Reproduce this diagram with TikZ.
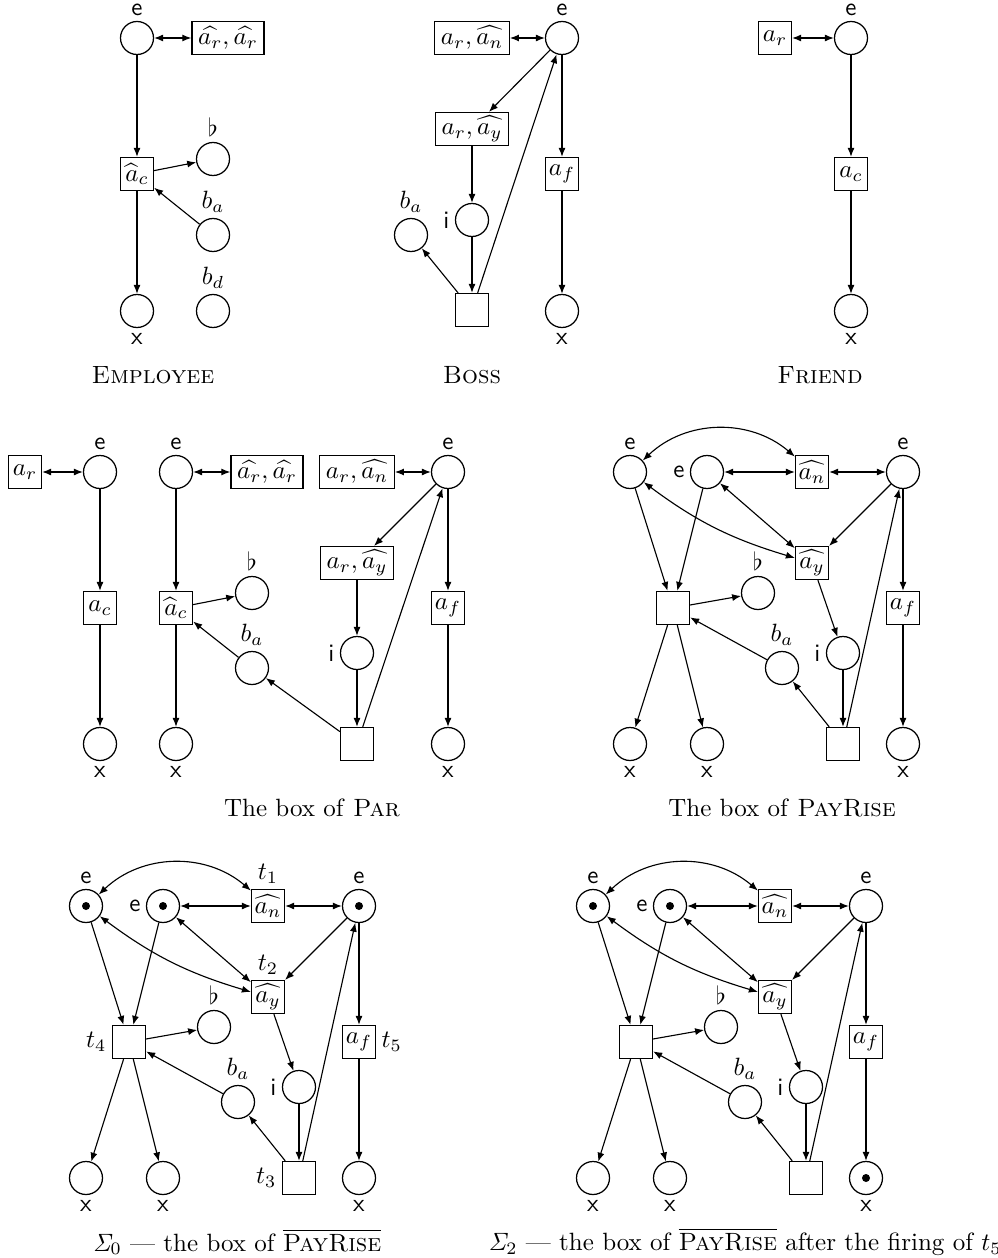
\documentclass[tikz,border=0pt]{standalone}
\usetikzlibrary{arrows.meta}
\tikzset{
  place/.style={circle, draw, line width=0.5pt, minimum size=13.2pt, inner sep=0pt},
  trans/.style={rectangle, draw, line width=0.5pt, minimum size=13.2pt, inner sep=1pt},
  wbox/.style={trans, inner xsep=2.5pt},
  arc/.style={-{Latex[length=3.6pt,width=2.8pt]}, line width=0.45pt},
  barc/.style={{Latex[length=3.6pt,width=2.8pt]}-{Latex[length=3.6pt,width=2.8pt]}, line width=0.45pt},
  every label/.style={inner sep=2pt},
  tok/.style={fill=black},
  captext/.style={inner sep=0pt}
}
\newcommand{\PRnet}[1]{%
  \node[place, label={above:\textsf{e}}] (#1e1) at (630,472) {};
  \node[place, label={left:\textsf{e}}] (#1e2) at (707,472) {};
  \node[trans] (#1an) at (812,472) {$\widehat{a_n}$};
  \node[place, label={above:\textsf{e}}] (#1e3) at (903,472) {};
  \node[trans] (#1ay) at (812,563) {$\widehat{a_y}$};
  \node[trans] (#1t4) at (673,608) {};
  \node[place, label={above:$\flat$}] (#1fl) at (758,593) {};
  \node[trans] (#1af) at (903,608) {$a_f$};
  \node[place, label={above:$b_a$}] (#1ba) at (782,668) {};
  \node[place, label={left:\textsf{i}}] (#1i) at (843,653) {};
  \node[trans] (#1t3) at (843,744) {};
  \node[place, label={below:\textsf{x}}] (#1x1) at (630,744) {};
  \node[place, label={below:\textsf{x}}] (#1x2) at (707,744) {};
  \node[place, label={below:\textsf{x}}] (#1x3) at (903,744) {};
  \draw[barc] (#1e1) to[bend left=42] (#1an);
  \draw[barc] (#1e2) -- (#1an);
  \draw[barc] (#1an) -- (#1e3);
  \draw[barc] (#1e2) -- (#1ay);
  \draw[barc] (#1e1) to[bend right=10] (#1ay);
  \draw[arc] (#1e3) -- (#1ay);
  \draw[arc] (#1e1) -- (#1t4);
  \draw[arc] (#1e2) -- (#1t4);
  \draw[arc] (#1t4) -- (#1fl);
  \draw[arc] (#1ba) -- (#1t4);
  \draw[arc] (#1t4) -- (#1x1);
  \draw[arc] (#1t4) -- (#1x2);
  \draw[arc] (#1ay) -- (#1i);
  \draw[arc] (#1i) -- (#1t3);
  \draw[arc] (#1t3) -- (#1ba);
  \draw[arc] (#1t3) -- (#1e3);
  \draw[arc] (#1e3) -- (#1af);
  \draw[arc] (#1af) -- (#1x3);
}
\begin{document}
\begin{tikzpicture}[x=0.4pt,y=-0.4pt]
\useasboundingbox (0,0) rectangle (998,1258);
% ---------- Employee
\node[place, label={above:\textsf{e}}] (Ae) at (137,38) {};
\node[wbox] (Abox) at (228,38) {$\widehat{a_r},\widehat{a_r}$};
\node[trans] (Aac) at (137,174) {$\widehat{a}_c$};
\node[place, label={above:$\flat$}] (Afl) at (213,159) {};
\node[place, label={above:$b_a$}] (Aba) at (213,235) {};
\node[place, label={above:$b_d$}] (Abd) at (213,311) {};
\node[place, label={below:\textsf{x}}] (Ax) at (137,311) {};
\node[captext] (Acap) at (153,375) {\textsc{Employee}};
\draw[barc] (Ae) -- (Abox);
\draw[arc] (Ae) -- (Aac);
\draw[arc] (Aac) -- (Afl);
\draw[arc] (Aba) -- (Aac);
\draw[arc] (Aac) -- (Ax);
% ---------- Boss
\node[place, label={above:\textsf{e}}] (Be) at (562,38) {};
\node[wbox] (Bb1) at (472,38) {$a_r,\widehat{a_n}$};
\node[wbox] (Bb2) at (472,129) {$a_r,\widehat{a_y}$};
\node[trans] (Baf) at (562,174) {$a_f$};
\node[place, label={left:\textsf{i}}] (Bi) at (472,220) {};
\node[place, label={above:$b_a$}] (Bba) at (411,235) {};
\node[trans] (Bt) at (472,310) {};
\node[place, label={below:\textsf{x}}] (Bx) at (562,311) {};
\node[captext] (Bcap) at (472,375) {\textsc{Boss}};
\draw[barc] (Bb1) -- (Be);
\draw[arc] (Be) -- (Bb2);
\draw[arc] (Bb2) -- (Bi);
\draw[arc] (Bi) -- (Bt);
\draw[arc] (Bt) -- (Bba);
\draw[arc] (Bt) -- (Be);
\draw[arc] (Be) -- (Baf);
\draw[arc] (Baf) -- (Bx);
% ---------- Friend
\node[place, label={above:\textsf{e}}] (Ce) at (851,38) {};
\node[trans] (Car) at (775,38) {$a_r$};
\node[trans] (Cac) at (851,174) {$a_c$};
\node[place, label={below:\textsf{x}}] (Cx) at (851,311) {};
\node[captext] (Ccap) at (820,375) {\textsc{Friend}};
\draw[barc] (Car) -- (Ce);
\draw[arc] (Ce) -- (Cac);
\draw[arc] (Cac) -- (Cx);
% ---------- Par
\node[place, label={above:\textsf{e}}] (De1) at (100,472) {};
\node[trans] (Dar) at (25,472) {$a_r$};
\node[trans] (Dac) at (100,608) {$a_c$};
\node[place, label={below:\textsf{x}}] (Dx1) at (100,744) {};
\node[place, label={above:\textsf{e}}] (De2) at (176,472) {};
\node[wbox] (Dbox) at (267,472) {$\widehat{a_r},\widehat{a_r}$};
\node[trans] (Dhac) at (176,608) {$\widehat{a}_c$};
\node[place, label={below:\textsf{x}}] (Dx2) at (176,744) {};
\node[place, label={above:$\flat$}] (Dfl) at (252,593) {};
\node[place, label={above:$b_a$}] (Dba) at (252,668) {};
\node[wbox] (Db1) at (357,472) {$a_r,\widehat{a_n}$};
\node[place, label={above:\textsf{e}}] (De3) at (448,472) {};
\node[wbox] (Db2) at (357,563) {$a_r,\widehat{a_y}$};
\node[trans] (Daf) at (448,608) {$a_f$};
\node[place, label={left:\textsf{i}}] (Di) at (357,653) {};
\node[trans] (Dt) at (357,744) {};
\node[place, label={below:\textsf{x}}] (Dx3) at (448,744) {};
\node[captext] (Dcap) at (312,808) {The box of \textsc{Par}};
\draw[barc] (Dar) -- (De1);
\draw[arc] (De1) -- (Dac);
\draw[arc] (Dac) -- (Dx1);
\draw[barc] (De2) -- (Dbox);
\draw[arc] (De2) -- (Dhac);
\draw[arc] (Dhac) -- (Dfl);
\draw[arc] (Dba) -- (Dhac);
\draw[arc] (Dhac) -- (Dx2);
\draw[barc] (Db1) -- (De3);
\draw[arc] (De3) -- (Db2);
\draw[arc] (Db2) -- (Di);
\draw[arc] (Di) -- (Dt);
\draw[arc] (Dt) -- (Dba);
\draw[arc] (Dt) -- (De3);
\draw[arc] (De3) -- (Daf);
\draw[arc] (Daf) -- (Dx3);
% ---------- PayRise
\PRnet{E}
\node[captext] (Ecap) at (782,808) {The box of \textsc{PayRise}};
% ---------- Sigma 0
\begin{scope}[shift={(-544,434)}]
\PRnet{F}
\end{scope}
\node[anchor=south, inner sep=2pt] (Flt1) at (Fan.north) {$t_1$};
\node[anchor=south, inner sep=2pt] (Flt2) at (Fay.north) {$t_2$};
\node[anchor=east, inner sep=2pt] (Flt4) at (Ft4.west) {$t_4$};
\node[anchor=west, inner sep=2pt] (Flt5) at (Faf.east) {$t_5$};
\node[anchor=east, inner sep=2pt] (Flt3) at (Ft3.west) {$t_3$};
\fill[tok] (Fe1) circle (1.6pt);
\fill[tok] (Fe2) circle (1.6pt);
\fill[tok] (Fe3) circle (1.6pt);
\node[captext] (Fcap) at (237,1242) {$\mathit{\Sigma}_0$ --- the box of $\overline{\mbox{\textsc{PayRise}}}$};
% ---------- Sigma 2
\begin{scope}[shift={(-37,434)}]
\PRnet{G}
\end{scope}
\fill[tok] (Ge1) circle (1.6pt);
\fill[tok] (Ge2) circle (1.6pt);
\fill[tok] (Gx3) circle (1.6pt);
\node[captext] (Gcap) at (745,1242) {$\mathit{\Sigma}_2$ --- the box of $\overline{\mbox{\textsc{PayRise}}}$ after the firing of $t_5$};
\end{tikzpicture}
\end{document}
